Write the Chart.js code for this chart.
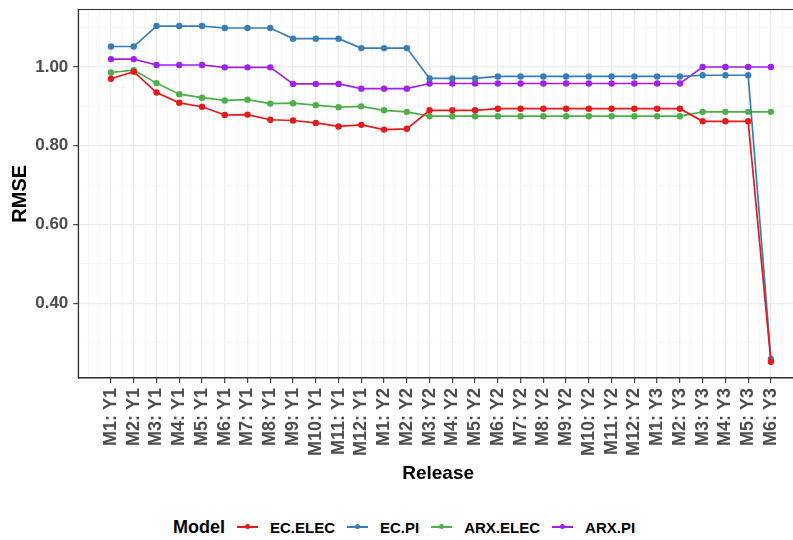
<!DOCTYPE html>
<html>
<head>
<meta charset="utf-8">
<script src="https://cdn.jsdelivr.net/npm/chart.js@4.4.1/dist/chart.umd.min.js"></script>
<style>
  html, body { margin: 0; padding: 0; background: #fff; overflow: hidden; }
  #wrap { position: relative; width: 793px; height: 540px; overflow: hidden; }
  #chart { position: absolute; left: 0; top: 0; }
  #legend {
    position: absolute; left: 173px; top: 516px; height: 22px;
    display: flex; align-items: center; white-space: nowrap;
    font-family: "Liberation Sans", Arial, sans-serif; font-weight: bold; color: #000;
  }
  #legend .title { font-size: 18px; margin-right: 12px; }
  #legend .key { position: relative; width: 21px; height: 2px; margin-right: 12px; }
  #legend .key i { position: absolute; left: 8px; top: -2px; width: 5px; height: 5px; border-radius: 50%; }
  #legend .lab { font-size: 15px; margin-right: 12px; }
</style>
</head>
<body>
<div id="wrap">
  <canvas id="chart" width="810" height="500"></canvas>
  <div id="legend"></div>
</div>
<script>
// Releases
const categories = [
  'M1: Y1', 'M2: Y1', 'M3: Y1', 'M4: Y1', 'M5: Y1', 'M6: Y1', 'M7: Y1', 'M8: Y1', 'M9: Y1', 'M10: Y1', 'M11: Y1', 'M12: Y1',
  'M1: Y2', 'M2: Y2', 'M3: Y2', 'M4: Y2', 'M5: Y2', 'M6: Y2', 'M7: Y2', 'M8: Y2', 'M9: Y2', 'M10: Y2', 'M11: Y2', 'M12: Y2',
  'M1: Y3', 'M2: Y3', 'M3: Y3', 'M4: Y3', 'M5: Y3', 'M6: Y3'
];

// RMSE per model
const ecElec = [0.970, 0.988, 0.935, 0.909, 0.899, 0.878, 0.879, 0.866, 0.864, 0.858, 0.849, 0.853,
  0.841, 0.843, 0.890, 0.890, 0.890, 0.894, 0.894, 0.894, 0.894, 0.894, 0.894, 0.894,
  0.894, 0.894, 0.862, 0.862, 0.862, 0.251];
const ecPi = [1.052, 1.052, 1.104, 1.104, 1.104, 1.099, 1.099, 1.099, 1.072, 1.072, 1.072, 1.048,
  1.048, 1.048, 0.971, 0.971, 0.971, 0.976, 0.976, 0.976, 0.976, 0.976, 0.976, 0.976,
  0.976, 0.976, 0.979, 0.979, 0.979, 0.258];
const arxElec = [0.986, 0.992, 0.959, 0.931, 0.922, 0.915, 0.917, 0.907, 0.908, 0.903, 0.898, 0.900,
  0.890, 0.886, 0.875, 0.875, 0.875, 0.875, 0.875, 0.875, 0.875, 0.875, 0.875, 0.875,
  0.875, 0.875, 0.886, 0.886, 0.886, 0.886];
const arxPi = [1.020, 1.020, 1.005, 1.005, 1.005, 0.999, 0.999, 0.999, 0.957, 0.957, 0.957, 0.945,
  0.945, 0.945, 0.958, 0.958, 0.958, 0.958, 0.958, 0.958, 0.958, 0.958, 0.958, 0.958,
  0.958, 0.958, 1.000, 1.000, 1.000, 1.000];

const seriesNames = ['EC.ELEC', 'EC.PI', 'ARX.ELEC', 'ARX.PI'];
const seriesValues = [ecElec, ecPi, arxElec, arxPi];
const seriesColors = ['#E41A1C', '#377EB8', '#4DAF4A', '#A020F0'];

const FONT = '"Liberation Sans", Arial, sans-serif';

// legend row
const legend = document.getElementById('legend');
legend.innerHTML = '<span class="title">Model</span>' + seriesNames.map((n, i) =>
  `<span class="key" style="background:${seriesColors[i]}"><i style="background:${seriesColors[i]}"></i></span><span class="lab">${n}</span>`
).join('');

const isMajorY = v => Math.round(v * 10) % 2 === 0;
const isMajorX = v => Number.isInteger(v) && v >= 0 && v < categories.length;

// panel border on top like theme_bw
const panelBorder = {
  id: 'panelBorder',
  afterDatasetsDraw(chart) {
    const { ctx, chartArea: a } = chart;
    ctx.save();
    ctx.strokeStyle = '#333333';
    ctx.lineWidth = 1.1;
    ctx.strokeRect(a.left, a.top, a.right - a.left, a.bottom - a.top);
    ctx.restore();
  }
};

new Chart(document.getElementById('chart'), {
  type: 'line',
  data: {
    datasets: seriesNames.map((name, i) => ({
      label: name,
      data: seriesValues[i].map((v, j) => ({ x: j, y: v })),
      borderColor: seriesColors[i],
      backgroundColor: seriesColors[i],
      borderWidth: 1.7,
      pointRadius: 3.2,
      pointBorderWidth: 0,
      pointHoverRadius: 3.2,
      tension: 0
    }))
  },
  options: {
    responsive: false,
    animation: false,
    layout: { padding: { top: 9.5, right: 12, left: 0, bottom: 0 } },
    plugins: { legend: { display: false }, tooltip: { enabled: false } },
    scales: {
      x: {
        type: 'linear',
        min: -1.436,
        max: 30.19,
        afterFit: s => { s.height = 122; s.paddingLeft = 0; s.paddingRight = 0; },
        ticks: {
          stepSize: 0.5,
          includeBounds: false,
          autoSkip: false,
          maxRotation: 90,
          minRotation: 90,
          padding: 5,
          color: '#4D4D4D',
          font: { family: FONT, size: 18, weight: 'bold' },
          callback: v => isMajorX(v) ? categories[v] : ''
        },
        grid: {
          color: c => isMajorX(c.tick.value) ? '#EBEBEB' : '#F4F4F4',
          lineWidth: c => isMajorX(c.tick.value) ? 1.3 : 0.8,
          tickColor: c => isMajorX(c.tick.value) ? '#333333' : 'rgba(0,0,0,0)',
          tickLength: 5,
          tickWidth: 1.1
        },
        border: { color: '#333333', width: 1.1 },
        title: {
          display: true,
          text: 'Release',
          color: '#000',
          font: { family: FONT, size: 19, weight: 'bold' },
          padding: { top: 0, bottom: 14.5 }
        }
      },
      y: {
        min: 0.21,
        max: 1.146,
        afterFit: s => { s.width = 78.3; s.paddingTop = 0; s.paddingBottom = 0; },
        ticks: {
          stepSize: 0.1,
          includeBounds: false,
          padding: 5,
          color: '#4D4D4D',
          font: { family: FONT, size: 17, weight: 'bold', lineHeight: 1 },
          callback: v => isMajorY(v) ? v.toFixed(2) : ''
        },
        grid: {
          color: c => isMajorY(c.tick.value) ? '#EBEBEB' : '#F4F4F4',
          lineWidth: c => isMajorY(c.tick.value) ? 1.3 : 0.8,
          tickColor: c => isMajorY(c.tick.value) ? '#333333' : 'rgba(0,0,0,0)',
          tickLength: 5,
          tickWidth: 1.1
        },
        border: { color: '#333333', width: 1.1 },
        title: {
          display: true,
          text: 'RMSE',
          color: '#000',
          font: { family: FONT, size: 20, weight: 'bold' },
          padding: { top: 8, bottom: 0 }
        }
      }
    }
  },
  plugins: [panelBorder]
});
</script>
</body>
</html>
